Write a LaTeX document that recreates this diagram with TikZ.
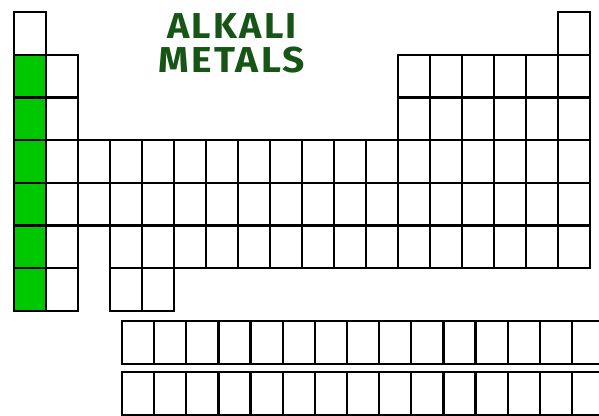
\documentclass[tikz,border=0pt]{standalone}
\usepackage{fontspec}
\newfontfamily\handfont[LetterSpace=6]{Fira Sans}
\definecolor{alkali}{RGB}{0,200,0}
\definecolor{ink}{RGB}{22,85,22}
\tikzset{
  cellbox/.style={draw=black,line width=2.3pt,fill=white},
  greencell/.style={cellbox,fill=alkali},
  title/.style={text=ink,inner sep=0pt,font=\handfont\bfseries\fontsize{36}{36}\selectfont}
}
\newcommand\pcell[3][cellbox]{\path[#1] ({14+(#2-1)*32},{12+(#3-1)*42.7}) rectangle ++(32,42.7);}
\newcommand\lcell[2]{\path[cellbox] ({122+(#1-1)*32.14},{#2}) rectangle ++(32.14,43);}
\begin{document}
\begin{tikzpicture}[x=1pt,y=-1pt]
\useasboundingbox (0,0) rectangle (599,415);
\clip (0,0) rectangle (599,415);
% row 1
\pcell{1}{1}\pcell{18}{1}
% rows 2-3
\foreach \r in {2,3}{\pcell[greencell]{1}{\r}\pcell{2}{\r}
  \foreach \c in {13,...,18}{\pcell{\c}{\r}}}
% rows 4-5
\foreach \r in {4,5}{\pcell[greencell]{1}{\r}
  \foreach \c in {2,...,18}{\pcell{\c}{\r}}}
% row 6
\pcell[greencell]{1}{6}\pcell{2}{6}
\foreach \c in {4,...,18}{\pcell{\c}{6}}
% row 7
\pcell[greencell]{1}{7}\pcell{2}{7}\pcell{4}{7}\pcell{5}{7}
% lanthanides and actinides
\foreach \c in {1,...,15}{\lcell{\c}{321}\lcell{\c}{372}}
% title
\node[title] (t1) at (232,26) {\scalebox{1.05}[1]{ALKALI}};
\node[title] (t2) at (232,60) {\scalebox{1.08}[1]{METALS}};
\end{tikzpicture}
\end{document}
